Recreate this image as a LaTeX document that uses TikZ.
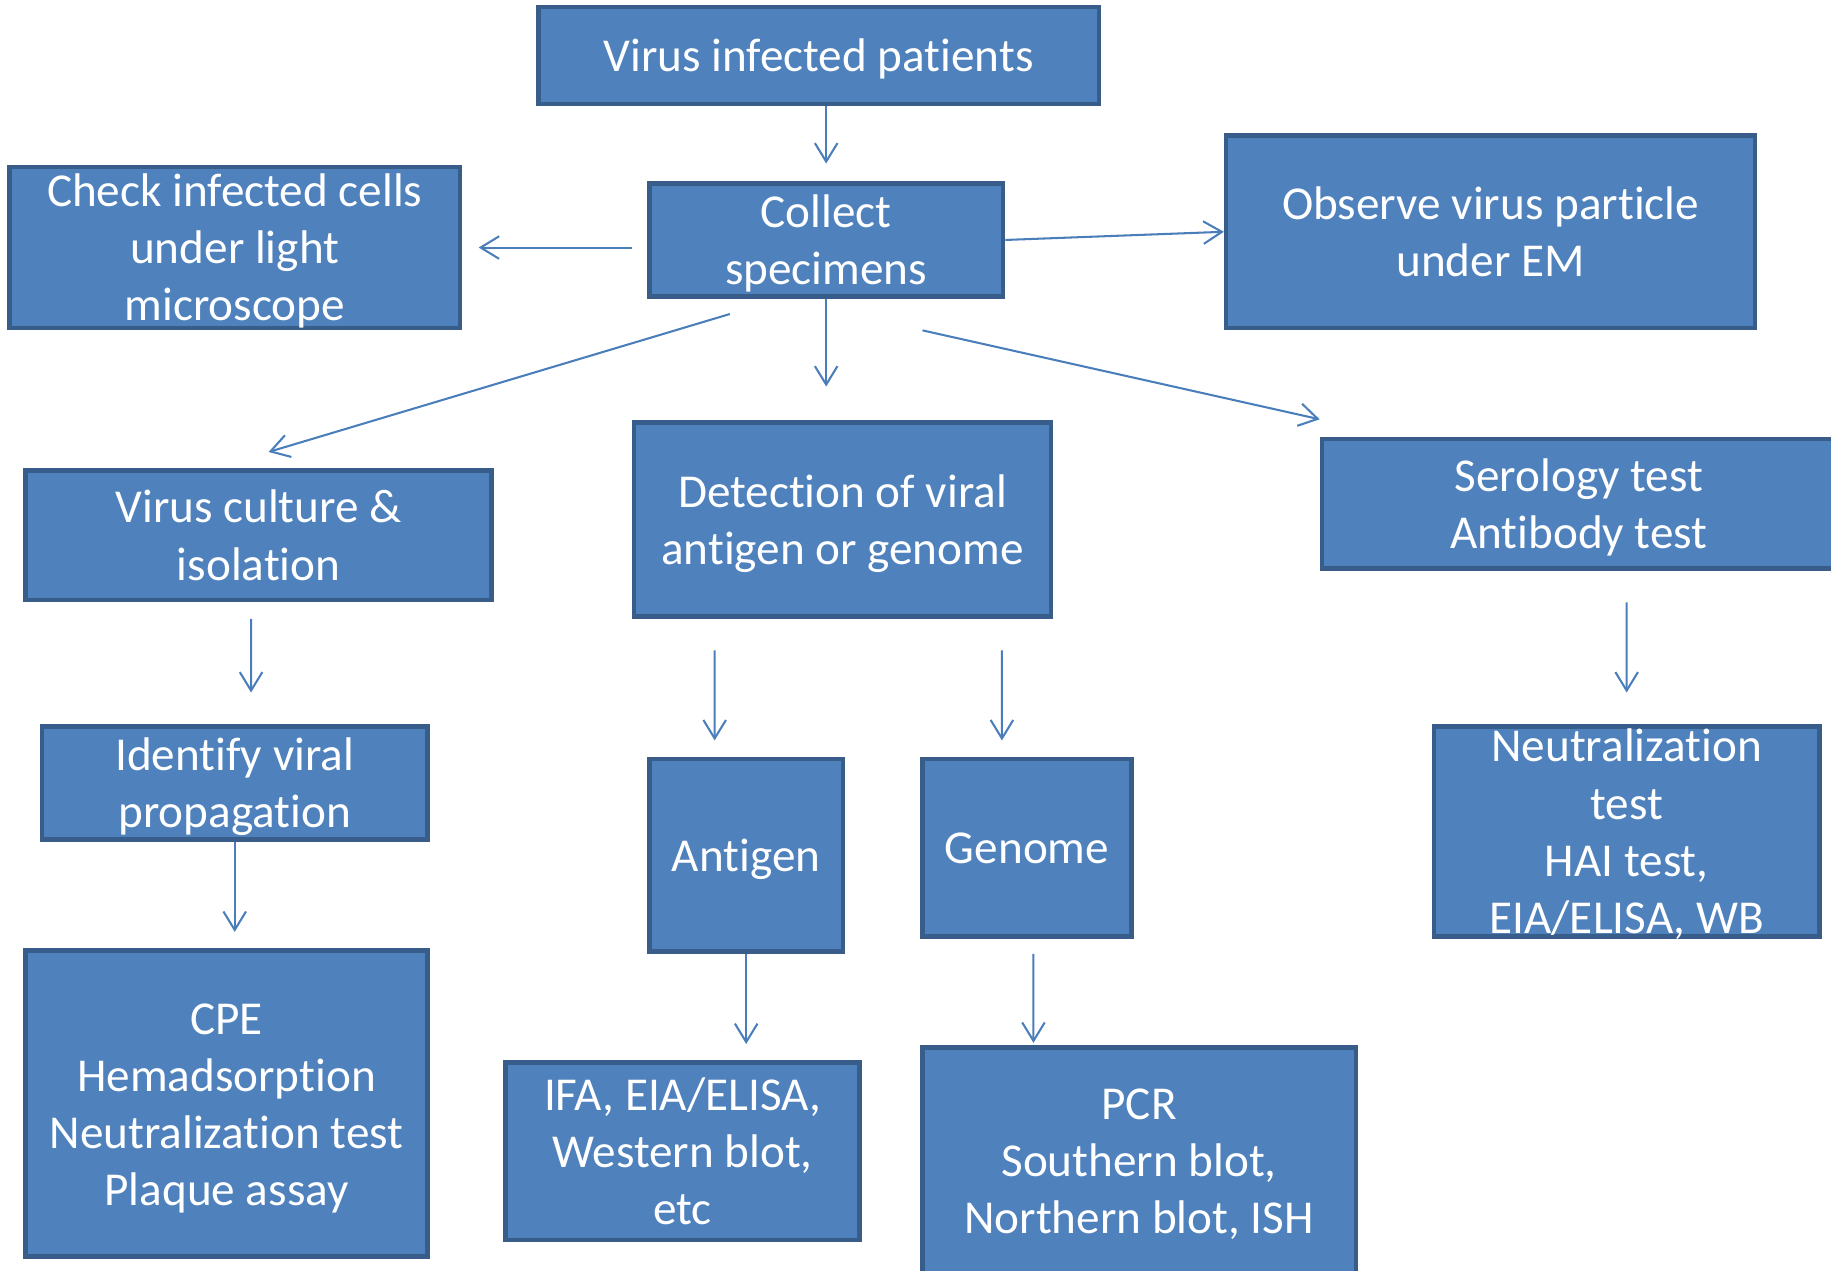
\documentclass[tikz,border=0pt]{standalone}
\usepackage{fontspec}
\setmainfont{Carlito}[Ligatures=NoCommon]
\usetikzlibrary{arrows.meta, calc}
\definecolor{boxfill}{HTML}{4F81BD}
\definecolor{boxline}{HTML}{385D8A}
\definecolor{arrowblue}{HTML}{4A7EBB}
\newcommand{\firstline}{\rule{0pt}{0.952em}}

\begin{document}
\begin{tikzpicture}[
  font=\fontsize{11.5}{13.9}\selectfont,
  >={Straight Barb[length=4.5pt,width=5.5pt]},
  stage/.style={
    rectangle, draw=boxline, line width=1.1pt, fill=boxfill,
    text=white, align=center, inner xsep=0pt, inner ysep=-2mm,
    execute at end node={\rule[-0.269em]{0pt}{0pt}}
  },
  arrow/.style={->, draw=arrowblue, line width=0.5pt}
]
\clip (0,0) rectangle (15.68,10.88);

% Top nodes
\node[stage, minimum width=4.80cm, minimum height=0.83cm] (pat) at (7.01,10.405) {\firstline Virus infected patients};
\node[stage, minimum width=3.03cm, minimum height=0.97cm] (col) at (7.075,8.825) {\firstline Collect\\specimens};
\node[stage, minimum width=3.86cm, minimum height=1.38cm] (chk) at (2.01,8.76) {\firstline Check infected cells\\under light\\microscope};
\node[stage, minimum width=4.53cm, minimum height=1.65cm] (obs) at (12.765,8.895) {\firstline Observe virus particle\\under EM};

% Method nodes
\node[stage, minimum width=3.99cm, minimum height=1.11cm] (cul) at (2.215,6.295) {\firstline Virus culture \&\\isolation};
\node[stage, minimum width=3.57cm, minimum height=1.66cm] (det) at (7.215,6.43) {\firstline Detection of viral\\antigen or genome};
\node[stage, minimum width=4.40cm, minimum height=1.11cm] (ser) at (13.52,6.565) {\firstline Serology test\\Antibody test};

% Second level nodes
\node[stage, minimum width=3.30cm, minimum height=0.97cm] (idf) at (2.01,4.175) {\firstline Identify viral\\propagation};
\node[stage, minimum width=1.66cm, minimum height=1.65cm] (ant) at (6.39,3.555) {\firstline Antigen};
\node[stage, minimum width=1.79cm, minimum height=1.52cm] (gen) at (8.795,3.62) {\firstline Genome};
\node[stage, minimum width=3.30cm, minimum height=1.80cm] (neu) at (13.93,3.76) {\firstline Neutralization\\test\\HAI test,\\EIA/ELISA, WB};

% Test nodes
\node[stage, minimum width=3.44cm, minimum height=2.62cm] (cpe) at (1.94,1.43) {\firstline CPE\\Hemadsorption\\Neutralization test\\Plaque assay};
\node[stage, minimum width=3.03cm, minimum height=1.52cm] (ifa) at (5.845,1.02) {\firstline IFA, EIA/ELISA,\\Western blot,\\etc};
\node[stage, minimum width=3.71cm, minimum height=1.94cm] (pcr) at (9.755,0.94) {\firstline PCR\\Southern blot,\\Northern blot, ISH};

% Arrows
\draw[arrow, shorten >=1.5mm] (pat.south -| col.north) -- (col.north);
\draw[arrow, shorten <=1.3mm, shorten >=1.4mm] (chk.east -| col.west) -- (chk.east);
\draw[arrow] (col.east) -- (obs.west);
\draw[arrow, shorten >=2.9mm] (col.south) -- (col.south |- det.north);
\draw[arrow] ([xshift=-8.25mm,yshift=-1.3mm]col.south) -- ([xshift=0.85mm,yshift=1.4mm]cul.north);
\draw[arrow] ([xshift=8.25mm,yshift=-2.7mm]col.south) -- ([yshift=1.5mm]ser.north west);
\draw[arrow] ([xshift=-0.65mm,yshift=-1.4mm]cul.south) -- ([xshift=1.4mm,yshift=2.7mm]idf.north);
\draw[arrow, shorten >=1.4mm] (idf.south) -- (idf.south |- cpe.north);
\draw[arrow] ([xshift=-10.95mm,yshift=-2.7mm]det.south) -- ([xshift=-2.7mm,yshift=1.4mm]ant.north);
\draw[arrow] ([xshift=13.65mm,yshift=-2.7mm]det.south) -- ([xshift=-2.15mm,yshift=1.4mm]gen.north);
\draw[arrow, shorten >=1.4mm] (ant.south) -- (ant.south |- ifa.north);
\draw[arrow] ([xshift=0.55mm,yshift=-1.3mm]gen.south) -- ([xshift=-9.05mm,yshift=0.2mm]pcr.north);
\draw[arrow] ([xshift=4.1mm,yshift=-2.7mm]ser.south) -- ([yshift=2.7mm]neu.north);

\end{tikzpicture}
\end{document}
